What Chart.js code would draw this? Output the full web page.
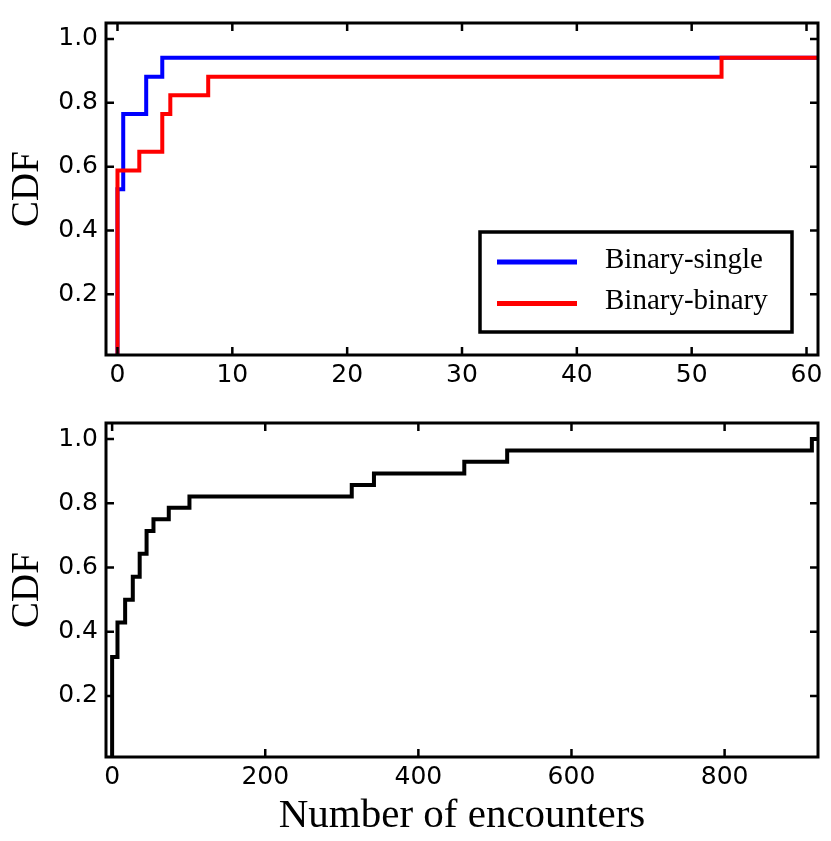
<!DOCTYPE html>
<html>
<head>
<meta charset="utf-8">
<script src="https://cdn.jsdelivr.net/npm/chart.js@4.4.1/dist/chart.umd.min.js"></script>
<style>
  body { margin: 0; background: #fff; }
  #wrap { position: relative; width: 831px; height: 841px; }
  .box { position: absolute; left: 0; width: 831px; }
</style>
</head>
<body>
<div id="wrap">
  <div class="box" style="top:0;height:400px"><canvas id="topChart"></canvas></div>
  <div class="box" style="top:400px;height:441px"><canvas id="bottomChart"></canvas></div>
</div>
<script>
// top panel, CDF per encounter type
const singleX = [0, 0, 0.5, 2.5, 3.9, 61];
const singleY = [0, 0.529, 0.765, 0.882, 0.941, 0.941];
const binaryX = [0, 0, 1.9, 3.9, 4.6, 7.9, 52.6, 61];
const binaryY = [0, 0.588, 0.647, 0.765, 0.824, 0.882, 0.941, 0.941];
const topTicksX = [0, 10, 20, 30, 40, 50, 60];

// bottom panel, all encounters
const allX = [0, 0, 7, 17, 27, 36, 45, 54, 74, 101, 313, 342, 460, 516, 914, 922];
const allY = [0, 0.321, 0.429, 0.5, 0.571, 0.643, 0.714, 0.75, 0.786, 0.821, 0.857, 0.893, 0.929, 0.964, 1.0, 1.0];
const bottomTicksX = [0, 200, 400, 600, 800];

const ticksY = [0.2, 0.4, 0.6, 0.8, 1.0];

const tickFont = { family: 'DejaVu Sans', size: 25 };
const serif = 'Liberation Serif';

function toPoints(xs, ys) {
  return xs.map((x, i) => ({ x: x, y: ys[i] }));
}

// box round the plot + ticks pointing inwards on all 4 sides
const frame = {
  id: 'frame',
  afterDatasetsDraw(chart) {
    const { ctx, chartArea: a, scales: { x, y } } = chart;
    ctx.save();
    ctx.strokeStyle = '#000';
    ctx.lineWidth = 2.5;
    ctx.beginPath();
    x.ticks.forEach(t => {
      const px = x.getPixelForValue(t.value);
      ctx.moveTo(px, a.bottom); ctx.lineTo(px, a.bottom - 8);
      ctx.moveTo(px, a.top); ctx.lineTo(px, a.top + 8);
    });
    y.ticks.forEach(t => {
      const py = y.getPixelForValue(t.value);
      ctx.moveTo(a.left, py); ctx.lineTo(a.left + 8, py);
      ctx.moveTo(a.right, py); ctx.lineTo(a.right - 8, py);
    });
    ctx.stroke();
    ctx.lineWidth = 3;
    ctx.strokeRect(a.left, a.top, a.right - a.left, a.bottom - a.top);
    ctx.restore();
  }
};

// legend box in the lower right of the top panel
const boxLegend = {
  id: 'boxLegend',
  afterDraw(chart) {
    const { ctx, chartArea: a } = chart;
    const w = 312, h = 100;
    const left = a.right - 26 - w, top = a.bottom - 23 - h;
    ctx.save();
    ctx.fillStyle = '#fff';
    ctx.fillRect(left, top, w, h);
    ctx.strokeStyle = '#000';
    ctx.lineWidth = 3.5;
    ctx.strokeRect(left, top, w, h);
    ctx.font = '29px "' + serif + '"';
    ctx.textBaseline = 'middle';
    ctx.fillStyle = '#000';
    chart.data.datasets.forEach((ds, i) => {
      const ly = top + 30 + i * 41.5;
      ctx.strokeStyle = ds.borderColor;
      ctx.lineWidth = 5;
      ctx.beginPath();
      ctx.moveTo(left + 17, ly);
      ctx.lineTo(left + 97, ly);
      ctx.stroke();
      ctx.fillText(ds.label, left + 125, ly - 2);
    });
    ctx.restore();
  }
};

function makeOptions(xMin, xMax, xTicks, xTitle, xHeight, padTop) {
  return {
    responsive: true,
    maintainAspectRatio: false,
    animation: false,
    layout: { padding: { top: padTop, right: 13, left: 0, bottom: 0 } },
    plugins: { legend: { display: false }, tooltip: { enabled: false } },
    scales: {
      x: {
        type: 'linear',
        min: xMin,
        max: xMax,
        grid: { display: false, drawTicks: false },
        border: { display: false },
        afterBuildTicks: s => { s.ticks = xTicks.map(v => ({ value: v })); },
        afterFit: s => { s.height = xHeight; },
        ticks: {
          autoSkip: false, maxRotation: 0, padding: 5,
          color: '#000', font: tickFont,
          callback: v => String(v)
        },
        title: {
          display: !!xTitle,
          text: xTitle,
          color: '#000',
          font: { family: serif, size: 41 },
          padding: { top: 0, bottom: 0 }
        }
      },
      y: {
        type: 'linear',
        min: 0.01,
        max: 1.05,
        grid: { display: false, drawTicks: false },
        border: { display: false },
        afterBuildTicks: s => { s.ticks = ticksY.map(v => ({ value: v })); },
        afterFit: s => { s.width = 106; },
        ticks: {
          autoSkip: false, padding: 8,
          color: '#000', font: tickFont,
          callback: v => v.toFixed(1)
        },
        title: {
          display: true,
          text: 'CDF',
          color: '#000',
          font: { family: serif, size: 39 },
          padding: { top: 4, bottom: 0 }
        }
      }
    }
  };
}

function stepLine(label, data, color, width, order) {
  return {
    label: label,
    data: data,
    borderColor: color,
    borderWidth: width,
    stepped: 'before',
    pointRadius: 0,
    fill: false,
    clip: 0,
    order: order
  };
}

new Chart(document.getElementById('topChart'), {
  type: 'line',
  data: {
    datasets: [
      stepLine('Binary-single', toPoints(singleX, singleY), '#0000ff', 4, 1),
      stepLine('Binary-binary', toPoints(binaryX, binaryY), '#ff0000', 4, 0)
    ]
  },
  options: makeOptions(-1, 61, topTicksX, '', 45, 20),
  plugins: [frame, boxLegend]
});

new Chart(document.getElementById('bottomChart'), {
  type: 'line',
  data: {
    datasets: [
      stepLine('All', toPoints(allX, allY), '#000000', 4, 0)
    ]
  },
  options: makeOptions(-8, 922, bottomTicksX, 'Number of encounters', 84, 23),
  plugins: [frame]
});
</script>
</body>
</html>
